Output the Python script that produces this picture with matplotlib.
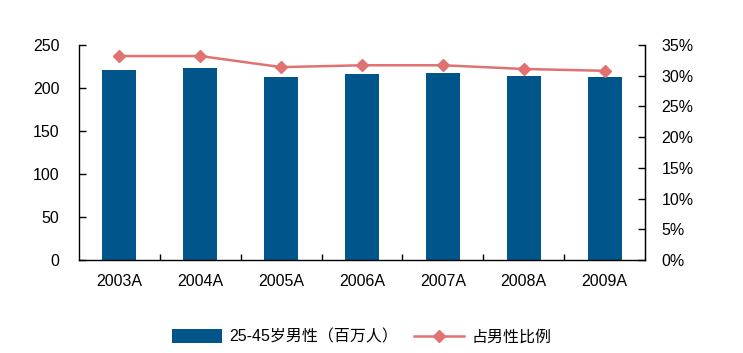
import matplotlib.pyplot as plt
import numpy as np
from matplotlib.ticker import FuncFormatter

plt.rcParams['font.family'] = ['Liberation Sans', 'Noto Sans CJK SC']

# data
years = ['2003A', '2004A', '2005A', '2006A', '2007A', '2008A', '2009A']
men = [221, 223, 213, 216, 217, 214, 213]          # 25-45岁男性 (百万人)
share = [33.2, 33.2, 31.4, 31.7, 31.7, 31.1, 30.8]  # 占男性比例 (%)

bar_c = '#00568A'
line_c = '#E07272'

fig = plt.figure(figsize=(7.43, 3.53), dpi=100)
ax = fig.add_axes([79/743, 1-260/353, 566/743, 215/353])
ax2 = ax.twinx()

x = np.arange(len(years))
b = ax.bar(x, men, width=0.42, color=bar_c, label='25-45岁男性（百万人）', zorder=2)
l, = ax2.plot(x, share, color=line_c, lw=1.8, marker='D', ms=6.5,
              label='占男性比例', zorder=3)
ax2.set_zorder(ax.get_zorder() + 1)
ax2.patch.set_visible(False)

ax.set_xlim(-0.5, len(years) - 0.5)
ax.set_ylim(0, 250)
ax.set_yticks(range(0, 251, 50))
ax2.set_ylim(0, 35)
ax2.set_yticks(range(0, 36, 5))
ax2.yaxis.set_major_formatter(FuncFormatter(lambda v, p: f'{v:.0f}%'))

# category separators as ticks on x
ax.set_xticks(x[:-1] + 0.5, minor=False)
ax.set_xticklabels([])
ax.set_xticks(x, minor=True)
ax.set_xticklabels(years, minor=True)
ax.tick_params(axis='x', which='major', direction='in', length=4, width=1)
ax.tick_params(axis='x', which='minor', length=0, pad=10, labelsize=11.5)
ax.tick_params(axis='y', direction='in', length=5, width=1, labelsize=11.5, pad=14)
ax2.tick_params(axis='y', direction='in', length=5, width=1, labelsize=11.5, pad=12)

ax.spines['top'].set_visible(False)
ax2.spines['top'].set_visible(False)
for s in ['left', 'bottom']:
    ax.spines[s].set_linewidth(1)
ax2.spines['right'].set_linewidth(1)
ax2.spines['left'].set_visible(False)
ax2.spines['bottom'].set_visible(False)

fig.legend([b, l], ['25-45岁男性（百万人）', '占男性比例'], loc='center',
           bbox_to_anchor=(362/743, 1-337/353), ncol=2, frameon=False,
           fontsize=11.5, handlelength=3.1, handleheight=0.9,
           columnspacing=1.0, handletextpad=0.5)

fig.savefig('out.png', dpi=100)
